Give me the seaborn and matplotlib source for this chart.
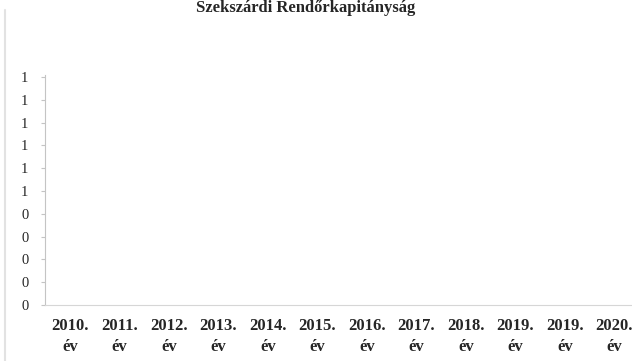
import numpy as np
import pandas as pd
import matplotlib
matplotlib.use('Agg')
import matplotlib.pyplot as plt
import seaborn as sns
from matplotlib.lines import Line2D

sns.set_style('white')
plt.rcParams['font.family'] = ['Liberation Serif', 'DejaVu Serif']

# chart data (empty chart in the original - all values zero)
years = ['2010.\név', '2011.\név', '2012.\név', '2013.\név', '2014.\név', '2015.\név',
         '2016.\név', '2017.\név', '2018.\név', '2019.\név', '2019.\név', '2020.\név']
values = [0, 0, 0, 0, 0, 0, 0, 0, 0, 0, 0, 0]
yticks = [0.0, 0.1, 0.2, 0.3, 0.4, 0.5, 0.6, 0.7, 0.8, 0.9, 1.0]
title = 'Szekszárdi Rendőrkapitányság'

df = pd.DataFrame({'pos': range(len(years)), 'val': values})

fig = plt.figure(figsize=(6.32, 3.61), dpi=100)
ax = fig.add_axes([45.25 / 632, 1 - 305 / 361, 594 / 632, 228 / 361])

sns.barplot(data=df, x='pos', y='val', color='#4f81bd', ax=ax, width=0.6)

ax.set_ylim(0, 1.0)
ax.set_xlim(-0.5, len(years) - 0.5)
ax.set_yticks(yticks)
ax.set_yticklabels([f'{v:.0f}' if v != 0.5 else '1' for v in yticks], fontsize=10.5)
ax.set_xticks(range(len(years)))
ax.set_xticklabels(years, fontsize=12, fontweight='bold', linespacing=1.45)
ax.set_xlabel('')
ax.set_ylabel('')

for s in ['top', 'right']:
    ax.spines[s].set_visible(False)
ax.spines['left'].set_color('#c4c4c4')
ax.spines['bottom'].set_color('#d6d6d6')
ax.spines['left'].set_bounds(0, 1.01)
ax.tick_params(axis='y', length=3, color='#c4c4c4', pad=9, left=True)
ax.tick_params(axis='x', length=0, pad=9)

fig.text(306 / 632, 1 - 12 / 361, title, ha='center', va='baseline',
         fontsize=12, fontweight='bold')
# faint page border from the scan
fig.add_artist(Line2D([5 / 632, 5 / 632], [0.0, 1 - 10 / 361], color='#e2e2e2', lw=1.5))

fig.savefig('out.png', dpi=100)
